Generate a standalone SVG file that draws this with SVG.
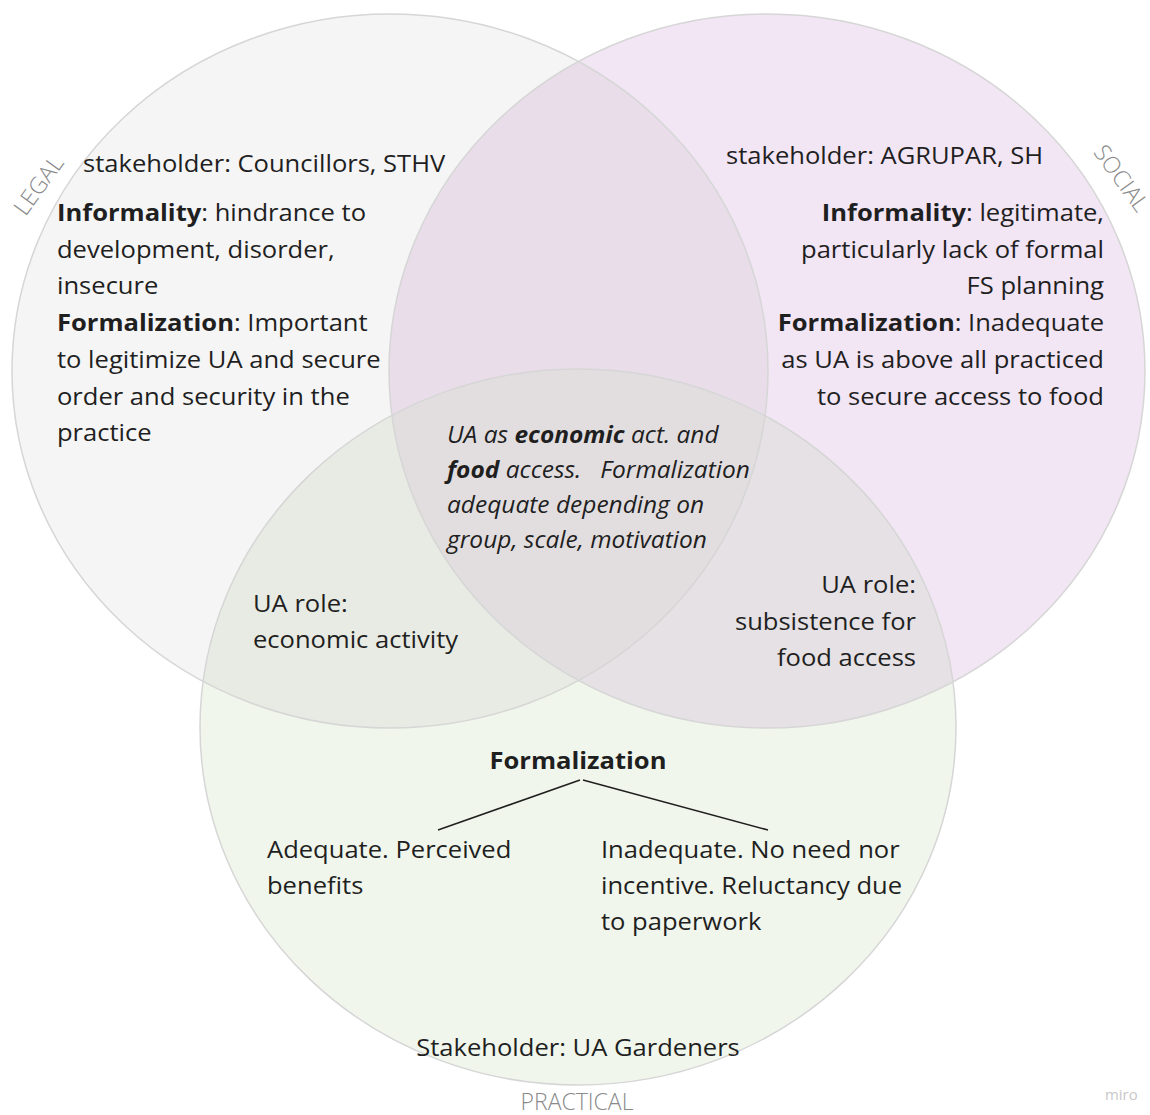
<svg xmlns="http://www.w3.org/2000/svg" width="1150" height="1115" viewBox="0 0 1150 1115">
<style>
text{font-family:"Open Sans","Liberation Sans",sans-serif;fill:#1f1f1f;font-size:24px}
.b{font-weight:bold}
.it{font-style:italic;font-size:23px}
.lab{fill:#8a8a8a;font-size:23px;font-weight:300}
.r{text-anchor:end}
.m{text-anchor:middle}
.edge{fill:none;stroke:#d6d6d6;stroke-width:1.5}
.con{stroke:#1f1f1f;stroke-width:1.5;fill:none}
</style>
<defs>
<ellipse id="eL" cx="390" cy="371" rx="378" ry="357"/>
<ellipse id="eS" cx="767" cy="371" rx="378" ry="357"/>
<ellipse id="eP" cx="578" cy="727" rx="378" ry="358"/>
<clipPath id="cL"><use href="#eL"/></clipPath>
<clipPath id="cS"><use href="#eS"/></clipPath>
<clipPath id="cP"><use href="#eP"/></clipPath>
</defs>
<rect width="1150" height="1115" fill="#ffffff"/>
<g id="legal">
<use href="#eL" fill="#f5f5f5"/>
</g>
<g id="social">
<use href="#eS" fill="#f2e5f4"/>
<use href="#eS" fill="#e9dde9" clip-path="url(#cL)"/>
</g>
<g id="practical">
<use href="#eP" fill="#f1f6ec"/>
<use href="#eP" fill="#e8ebe3" clip-path="url(#cL)"/>
<use href="#eP" fill="#e6e1e4" clip-path="url(#cS)"/>
<g clip-path="url(#cL)"><use href="#eP" fill="#e2dee0" clip-path="url(#cS)"/></g>
</g>
<g id="outlines">
<use href="#eL" class="edge"/>
<use href="#eS" class="edge"/>
<use href="#eP" class="edge"/>
</g>
<g id="labels">
<text class="lab" transform="translate(45,190) rotate(-54)" text-anchor="middle">LEGAL</text>
<text class="lab" transform="translate(1115,183) rotate(54)" text-anchor="middle">SOCIAL</text>
<text class="lab m" x="577" y="1110">PRACTICAL</text>
</g>
<g transform="scale(1.065 1)">
<g id="legal-text">
<text x="77.93" y="172">stakeholder: Councillors, STHV</text>
<text x="53.52" y="221"><tspan class="b">Informality</tspan>: hindrance to</text>
<text x="53.52" y="258">development, disorder,</text>
<text x="53.52" y="294">insecure</text>
<text x="53.52" y="331"><tspan class="b">Formalization</tspan>: Important</text>
<text x="53.52" y="368">to legitimize UA and secure</text>
<text x="53.52" y="405">order and security in the</text>
<text x="53.52" y="441">practice</text>
</g>
<g id="social-text">
<text x="681.69" y="164">stakeholder: AGRUPAR, SH</text>
<text class="r" x="1036.62" y="221"><tspan class="b">Informality</tspan>: legitimate,</text>
<text class="r" x="1036.62" y="258">particularly lack of formal</text>
<text class="r" x="1036.62" y="294">FS planning</text>
<text class="r" x="1036.62" y="331"><tspan class="b">Formalization</tspan>: Inadequate</text>
<text class="r" x="1036.62" y="368">as UA is above all practiced</text>
<text class="r" x="1036.62" y="405">to secure access to food</text>
</g>
<g id="center-text">
<text class="it" x="419.72" y="443">UA as <tspan class="b">economic</tspan> act. and</text>
<text class="it" x="419.72" y="478" xml:space="preserve"><tspan class="b">food</tspan> access.   Formalization</text>
<text class="it" x="419.72" y="513">adequate depending on</text>
<text class="it" x="419.72" y="548">group, scale, motivation</text>
</g>
<g id="legal-practical-text">
<text x="237.56" y="612">UA role:</text>
<text x="237.56" y="648">economic activity</text>
</g>
<g id="social-practical-text">
<text class="r" x="860.09" y="593">UA role:</text>
<text class="r" x="860.09" y="630">subsistence for</text>
<text class="r" x="860.09" y="666">food access</text>
</g>
<g id="practical-text">
<text class="b m" x="542.72" y="769">Formalization</text>
<text x="250.70" y="858">Adequate. Perceived</text>
<text x="250.70" y="894">benefits</text>
<text x="564.32" y="858">Inadequate. No need nor</text>
<text x="564.32" y="894">incentive. Reluctancy due</text>
<text x="564.32" y="930">to paperwork</text>
<text class="m" x="542.72" y="1056">Stakeholder: UA Gardeners</text>
</g>
<text x="1037.56" y="1100" style="font-size:14px;fill:#c8c8c8">miro</text>
</g>
<g id="connectors">
<line class="con" x1="580" y1="780" x2="438" y2="830"/>
<line class="con" x1="583" y1="780" x2="768" y2="830"/>
</g>
</svg>
